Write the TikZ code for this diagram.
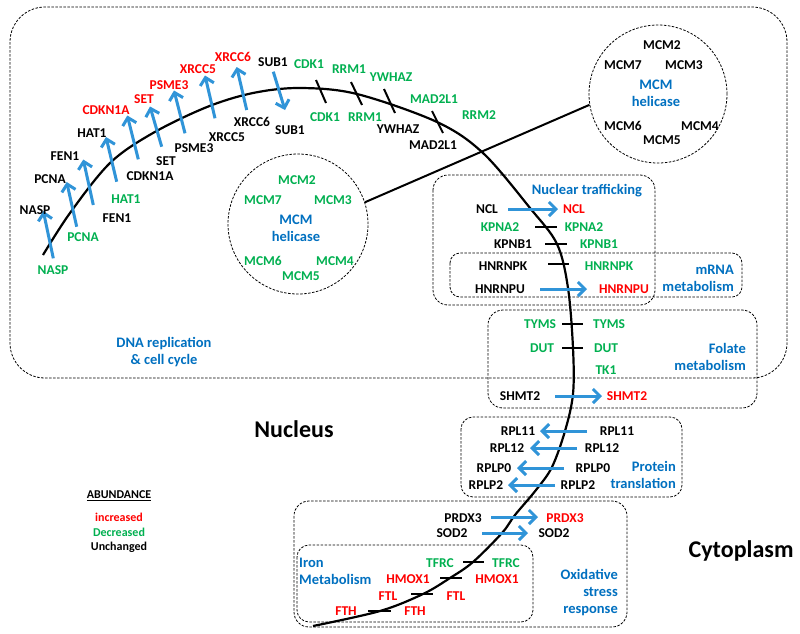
\documentclass[tikz,border=0pt]{standalone}
\usepackage{fontspec}
\setmainfont{Carlito}
\usetikzlibrary{arrows.meta}
\definecolor{cUp}{RGB}{255,0,0}
\definecolor{cDn}{RGB}{0,176,80}
\definecolor{cTx}{RGB}{0,112,192}
\definecolor{cAr}{RGB}{48,148,216}
\tikzset{
 gene/.style={font=\bfseries\fontsize{13.5}{16}\selectfont, inner sep=0pt, text height=8.7pt, text depth=0pt},
 gup/.style={gene,text=cUp},
 gdn/.style={gene,text=cDn},
 gun/.style={gene,text=black},
 lab/.style={font=\bfseries\fontsize{14.5}{17}\selectfont, text=cTx, inner sep=0pt},
 arr/.style={draw=cAr, line width=3pt, -{Straight Barb[length=7pt,width=14pt]}},
 inhib/.style={draw=black, line width=2pt},
 dbox/.style={draw=black, dash pattern=on 2.5pt off 1.5pt, line width=0.8pt},
 membrane/.style={draw=black, line width=2.2pt},
 legendtxt/.style={font=\bfseries\fontsize{12}{14}\selectfont, inner sep=0pt},
 bigtxt/.style={font=\bfseries\fontsize{24}{28}\selectfont, inner sep=0pt, text=black},
 mcmcircle/.style={circle, dbox, minimum size=#1, inner sep=0pt}
}
\begin{document}
\begin{tikzpicture}[x=1pt,y=-1pt]
\useasboundingbox (0,0) rectangle (800,633);
\fill[white] (0,0) rectangle (800,633);

% compartments / boxes
\draw[dbox, rounded corners=35pt] (10,7) rectangle (787,378);
\draw[dbox, rounded corners=15pt] (433,175) rectangle (655,305);
\draw[dbox, rounded corners=10pt] (450,253) rectangle (742,297);
\draw[dbox, rounded corners=15pt] (488,310) rectangle (757,408);
\draw[dbox, rounded corners=12pt] (461,417) rectangle (682,497);
\draw[dbox, rounded corners=15pt] (294,501) rectangle (627,627);
\draw[dbox, rounded corners=12pt] (297,545) rectangle (533,622);

% MCM circles
\node[mcmcircle=140pt] (mcmL) at (298,224) {};
\node[mcmcircle=138pt] (mcmR) at (658,94) {};
\draw[black, line width=2pt] (mcmL.18) -- (mcmR.189);

% membrane
\draw[membrane] plot[smooth, tension=0.55] coordinates {(43,255) (70,213) (110,163) (153,133) (207,107) (253,93) (300,88) (357,94) (437,122) (483,153) (530,208) (557,244) (568,288) (573,348) (573,394) (565,431) (552,467) (536,490) (515,515) (502,533) (473,562) (450,578) (423,594) (380,611) (313,626)};

% inhibition bars (no translocation)
\foreach \n/\ax/\ay/\bx/\by in {
  bcdk/316/80/326/103, brrm/351/82/362/105, byw/384/89/395/113, bmad/432/111/443/133,
  bkpa/535/227/557/227, bkpb/545/244/567/244, bhnk/548/264/569/264,
  btyms/562/324/583/324, bdut/562/348/583/348,
  btfrc/463/562/484/562, bhmox/440/578/462/578, bftl/411/594/433/594, bfth/368/611/391/611}{
  \coordinate (\n s) at (\ax,\ay);
  \coordinate (\n e) at (\bx,\by);
  \draw[inhib] (\n s) -- (\n e);
}

% translocation arrows
\foreach \n/\ax/\ay/\bx/\by in {
  anasp/53.3/258.3/43.3/211, apcna/76.7/226.7/66.7/182, afen/93.3/205/83.3/159.5,
  ahat/116.7/181.7/106/137, acdkn/138.3/159.3/127.3/115.5, aset/161.7/146.7/150/106.5,
  apsme/185/133.3/174/90.5, axrf/215/118.3/205/75.5, axrs/246.7/110/236.7/67,
  asub/273.3/71.7/285/110,
  ancl/508/209/558/209, ahnu/540/289/587/289, ashmt/555/396/602/396,
  arpl11/587/431/540/431, arpl12/577/448/530/448, arplp0/564/468/517/468, arplp2/555/485/508/485,
  aprdx/491/517/538/517, asod/482/533/528/533}{
  \coordinate (\n s) at (\ax,\ay);
  \coordinate (\n e) at (\bx,\by);
  \draw[arr] (\n s) -- (\n e);
}

% gene labels
\foreach \n/\s/\x/\y/\t in {
  naspL/gdn/53/270/NASP, naspU/gun/35/210/NASP,
  pcnaL/gdn/83/237/PCNA, pcnaU/gun/50/179/PCNA,
  fenL/gun/117/218/FEN1, fenU/gun/65/156/FEN1,
  hatL/gdn/126/199/HAT1, hatU/gun/92/133/HAT1,
  cdknL/gun/150/176/CDKN1A, cdknU/gup/106/110/CDKN1A,
  setL/gun/166/161/SET, setU/gup/144/99/SET,
  psmeL/gun/194/148/PSME3, psmeU/gup/169/85/PSME3,
  xrfL/gun/227/137/XRCC5, xrfU/gup/198/69/XRCC5,
  xrsL/gun/252/122/XRCC6, xrsU/gup/233/57/XRCC6,
  subU/gun/273/62/SUB1, subL/gun/290/130/SUB1,
  cdkU/gdn/309/64/CDK1, cdkL/gdn/325/117/CDK1,
  rrmU/gdn/349/69/RRM1, rrmL/gdn/365/117/RRM1,
  ywU/gdn/391/77/YWHAZ, ywL/gun/398/129/YWHAZ,
  madU/gdn/434/99/MAD2L1, madL/gun/433/145/MAD2L1,
  rrmtwo/gdn/479/115/RRM2,
  nclA/gun/487/209/NCL, nclB/gup/574/209/NCL,
  kpaA/gdn/500/227/KPNA2, kpaB/gdn/584/227/KPNA2,
  kpbA/gun/513/244/KPNB1, kpbB/gdn/599/244/KPNB1,
  hnkA/gun/503/266/HNRNPK, hnkB/gdn/609/266/HNRNPK,
  hnuA/gun/500/289/HNRNPU, hnuB/gup/624/289/HNRNPU,
  tymsA/gdn/540/324/TYMS, tymsB/gdn/609/324/TYMS,
  dutA/gdn/542/348/DUT, dutB/gdn/606/348/DUT,
  tkone/gdn/606/370/TK1,
  shmtA/gun/520/396/SHMT2, shmtB/gup/627/396/SHMT2,
  rpl11A/gun/518/431/RPL11, rpl11B/gun/617/431/RPL11,
  rpl12A/gun/507/448/RPL12, rpl12B/gun/602/448/RPL12,
  rplp0A/gun/494/468/RPLP0, rplp0B/gun/593/468/RPLP0,
  rplp2A/gun/486/485/RPLP2, rplp2B/gun/578/485/RPLP2,
  prdxA/gun/463/518/PRDX3, prdxB/gup/565/518/PRDX3,
  sodA/gun/452/533/SOD2, sodB/gun/554/533/SOD2,
  tfrcA/gdn/440/563/TFRC, tfrcB/gdn/506/563/TFRC,
  hmoxA/gup/408/579/HMOX1, hmoxB/gup/497/579/HMOX1,
  ftlA/gup/388/596/FTL, ftlB/gup/456/596/FTL,
  fthA/gup/346/611/FTH, fthB/gup/415/611/FTH,
  lmcm2/gdn/297/180/MCM2, lmcm7/gdn/263/200/MCM7, lmcm3/gdn/333/200/MCM3,
  lmcm6/gdn/263/261/MCM6, lmcm4/gdn/335/261/MCM4, lmcm5/gdn/301/276/MCM5,
  rmcm2/gun/662/45/MCM2, rmcm7/gun/623/65/MCM7, rmcm3/gun/684/65/MCM3,
  rmcm6/gun/623/126/MCM6, rmcm4/gun/700/126/MCM4, rmcm5/gun/662/140/MCM5}{
  \node[\s] (\n) at (\x,\y) {\t};
}

% blue process labels
\node[lab, align=center] (lmcm) at (296,228) {MCM\\helicase};
\node[lab, align=center] (rmcm) at (656,93) {MCM\\helicase};
\node[lab] (trafficking) at (587,191) {Nuclear trafficking};
\node[lab, align=right, anchor=east] (mrna) at (734,278) {mRNA\\metabolism};
\node[lab, align=right, anchor=east] (folate) at (746,357) {Folate\\metabolism};
\node[lab, align=right, anchor=east] (protein) at (676,475) {Protein\\translation};
\node[lab, align=right, anchor=east] (oxid) at (618,593) {Oxidative\\stress\\response};
\node[lab, align=left, anchor=west] (iron) at (299,571) {Iron\\Metabolism};
\node[lab, align=center] (dna) at (164,352) {DNA replication\\\& cell cycle};

% compartment names
\node[bigtxt, anchor=base] (nucleus) at (294,437) {Nucleus};
\node[bigtxt, anchor=base] (cyto) at (741,557) {Cytoplasm};

% legend
\node[legendtxt] (abund) at (119,496) {\underline{ABUNDANCE}};
\node[legendtxt, text=cUp] (incr) at (119,517) {increased};
\node[legendtxt, text=cDn] (decr) at (119,532) {Decreased};
\node[legendtxt, text=black] (unch) at (119,547) {Unchanged};
\end{tikzpicture}
\end{document}
